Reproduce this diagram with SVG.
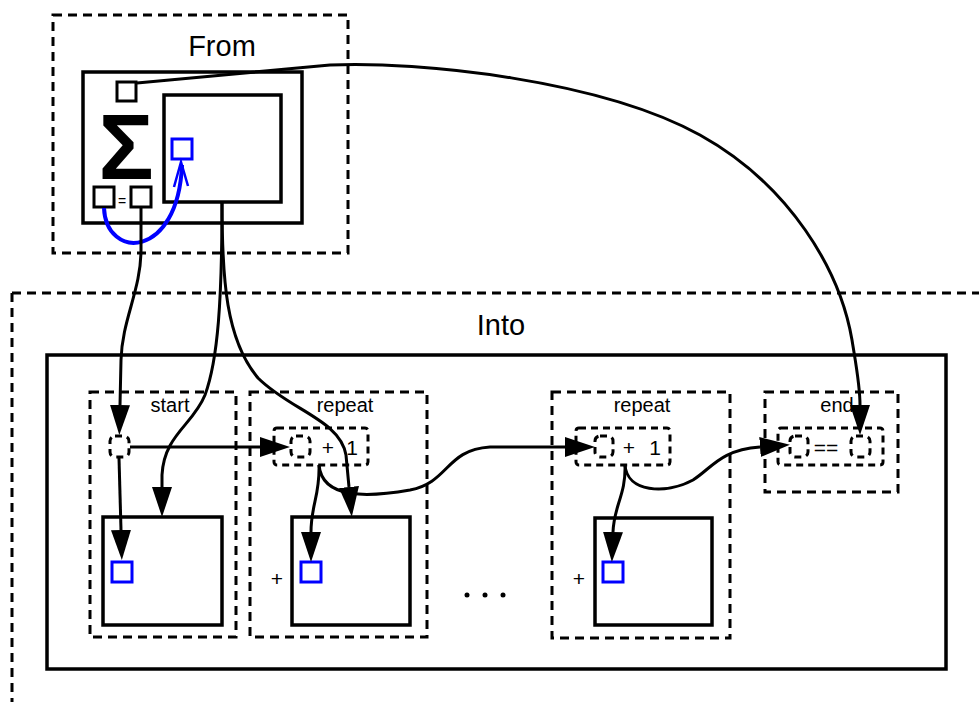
<svg xmlns="http://www.w3.org/2000/svg" width="979" height="702" viewBox="0 0 979 702">
  <style>
    .dash { fill: none; stroke: #000; stroke-width: 3; stroke-dasharray: 9 6; }
    .port { fill: none; stroke: #000; stroke-width: 3; stroke-dasharray: 7 5; }
    .box { fill: #fff; stroke: #000; stroke-width: 3.5; }
    .sq { fill: #fff; stroke: #000; stroke-width: 3; }
    .bsq { fill: #fff; stroke: #0000ff; stroke-width: 3; }
    .big { font-family: "Liberation Sans", Arial, sans-serif; font-size: 29px; text-anchor: middle; fill: #000; }
    .lbl { font-family: "Liberation Sans", Arial, sans-serif; font-size: 20px; text-anchor: middle; fill: #000; }
    .op { font-family: "Liberation Sans", Arial, sans-serif; font-size: 21px; text-anchor: middle; fill: #000; }
    .wire { fill: none; stroke: #000; stroke-width: 3; }
    .arr { marker-end: url(#ah); }
  </style>
  <defs>
    <marker id="ah" viewBox="0 0 30 20" refX="0" refY="10" markerWidth="30" markerHeight="20" markerUnits="userSpaceOnUse" orient="auto">
      <path d="M0,0 L30,10 L0,20 z" fill="#000"/>
    </marker>
  </defs>

  <rect width="979" height="702" fill="#fff"/>

  <!-- source block -->
  <g id="from">
    <rect class="dash" x="53" y="15" width="295" height="238"/>
    <text class="big" x="222" y="56">From</text>
    <rect class="box" x="83" y="72" width="219" height="151"/>
    <rect class="sq" x="117" y="82" width="19" height="19"/>
    <text x="126" y="179" font-family="Liberation Sans, Arial, sans-serif" font-weight="bold" font-size="92" text-anchor="middle">Σ</text>
    <rect class="sq" x="94" y="187" width="20" height="20"/>
    <text x="122" y="206" font-family="Liberation Sans, Arial, sans-serif" font-size="14" text-anchor="middle">=</text>
    <rect class="sq" x="131" y="187" width="20" height="20"/>
    <rect class="box" x="164" y="95" width="117" height="107"/>
    <rect class="bsq" x="172" y="139" width="20" height="20"/>
    <path d="M104,208 C106,260 178,260 182,165" fill="none" stroke="#0000ff" stroke-width="4"/>
    <path d="M174,187 L181,162 L188,186" fill="none" stroke="#0000ff" stroke-width="2.5"/>
  </g>

  <!-- target block -->
  <g id="into">
    <path class="dash" d="M12,293 L979,293 M12,293 L12,702"/>
    <text class="big" x="501" y="335">Into</text>
    <rect class="box" x="47" y="355" width="899" height="314"/>
  </g>

  <g id="start">
    <rect class="dash" x="90" y="392" width="146" height="245"/>
    <text class="lbl" x="170" y="412">start</text>
    <rect class="port" x="110" y="436" width="19" height="21" rx="5"/>
    <rect class="box" x="103" y="517" width="119" height="108"/>
    <rect class="bsq" x="112" y="562" width="20" height="20"/>
  </g>

  <g id="repeat1">
    <rect class="dash" x="250" y="392" width="177" height="245"/>
    <text class="lbl" x="345" y="412">repeat</text>
    <rect class="port" x="274" y="428" width="94" height="37" rx="3"/>
    <rect class="port" x="291" y="436" width="19" height="21" rx="5"/>
    <text class="op" x="328" y="455">+</text>
    <text class="op" x="352" y="455">1</text>
    <rect class="box" x="292" y="517" width="118" height="108"/>
    <rect class="bsq" x="301" y="562" width="20" height="20"/>
    <text class="op" x="277" y="586">+</text>
  </g>

  <g id="ellipsis">
    <circle cx="467" cy="595" r="2.5"/>
    <circle cx="485" cy="595" r="2.5"/>
    <circle cx="503" cy="595" r="2.5"/>
  </g>

  <g id="repeat2">
    <rect class="dash" x="552" y="392" width="178" height="246"/>
    <text class="lbl" x="642" y="412">repeat</text>
    <rect class="port" x="576" y="428" width="94" height="37" rx="3"/>
    <rect class="port" x="595" y="436" width="18" height="21" rx="5"/>
    <text class="op" x="629" y="455">+</text>
    <text class="op" x="655" y="455">1</text>
    <rect class="box" x="595" y="518" width="117" height="107"/>
    <rect class="bsq" x="603" y="562" width="20" height="20"/>
    <text class="op" x="579" y="586">+</text>
  </g>

  <g id="end">
    <rect class="dash" x="765" y="392" width="133" height="100"/>
    <text class="lbl" x="837" y="412">end</text>
    <rect class="port" x="778" y="428" width="105" height="37" rx="3"/>
    <rect class="port" x="790" y="436" width="18" height="21" rx="5"/>
    <text class="op" x="826" y="455">==</text>
    <rect class="port" x="851" y="436" width="19" height="21" rx="5"/>
  </g>

  <!-- connectors -->
  <g id="connectors">
    <path class="wire arr" d="M137,83 L330,65 C420,61 600,80 700,135 C790,185 840,270 852,340 C856,365 860,385 860,405"/>
    <path class="wire arr" d="M141,208 L141,250 C141,290 122,320 121,360 L120,405"/>
    <path class="wire arr" d="M222,202 C222,300 218,360 205,395 C193,425 164,435 162,475 L162,487"/>
    <path class="wire arr" d="M222,202 C222,280 226,340 258,378 C290,410 340,420 346,455 L349,487"/>
    <path class="wire arr" d="M130,447 L260,447"/>
    <path class="wire arr" d="M119,458 L121,530"/>
    <path class="wire arr" d="M319,465 C320,495 311,505 311,532"/>
    <path class="wire arr" d="M319,465 C322,500 370,497 410,490 C450,482 445,450 490,447 L565,447"/>
    <path class="wire arr" d="M625,465 C626,495 614,505 613,532"/>
    <path class="wire arr" d="M625,465 C627,492 665,495 693,480 C712,468 720,450 760,447"/>
  </g>
</svg>
